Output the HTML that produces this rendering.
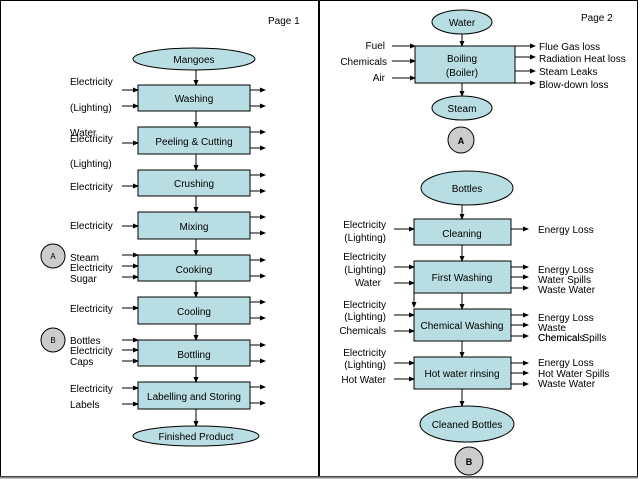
<!DOCTYPE html><html><head><style>body{margin:0;background:#fff}svg{display:block;font-family:"Liberation Sans",Arial,sans-serif;font-size:10px;fill:#000}</style></head><body>
<svg width="638" height="479" viewBox="0 0 638 479" xmlns="http://www.w3.org/2000/svg">
<defs><marker id="a" markerWidth="6" markerHeight="6" refX="5" refY="3" orient="auto" markerUnits="userSpaceOnUse"><path d="M0,0.5 L6,3 L0,5.5z" fill="#000"/></marker></defs>
<rect x="0.5" y="0.5" width="637" height="476" fill="#fff" stroke="#000"/>
<line x1="319" y1="0" x2="319" y2="477" stroke="#000" stroke-width="2"/>
<line x1="0" y1="477.5" x2="638" y2="477.5" stroke="#888" stroke-width="2"/>
<text x="268" y="24">Page 1</text><text x="581" y="21">Page 2</text>
<g stroke="#000" stroke-width="1">
<ellipse cx="194" cy="59" rx="61" ry="11" fill="#b8dde2"/>
<ellipse cx="196" cy="436" rx="63" ry="10" fill="#b8dde2"/>
<g fill="#b8dde2">
<rect x="138" y="85" width="112" height="26"/><rect x="138" y="127" width="112" height="27"/><rect x="138" y="170" width="112" height="26"/><rect x="138" y="212" width="112" height="27"/><rect x="138" y="255" width="112" height="26"/><rect x="138" y="297" width="112" height="27"/><rect x="138" y="340" width="112" height="26"/><rect x="138" y="382" width="112" height="27"/>
<ellipse cx="462" cy="22" rx="30" ry="12"/><rect x="415" y="46" width="100" height="37"/><ellipse cx="462" cy="108" rx="30" ry="12"/>
<ellipse cx="467" cy="188" rx="46" ry="17"/><rect x="414" y="219" width="97" height="26"/><rect x="414" y="261" width="97" height="32"/><rect x="414" y="309" width="97" height="32"/><rect x="414" y="357" width="97" height="32"/><ellipse cx="467" cy="424" rx="47" ry="18"/>
</g>
<g fill="#ccc"><circle cx="53" cy="256" r="12"/><circle cx="53" cy="340" r="12"/><circle cx="461" cy="140" r="13"/><circle cx="469" cy="461" r="14"/></g>
<g marker-end="url(#a)">
<line x1="196" y1="70" x2="196" y2="85"/><line x1="196" y1="111" x2="196" y2="127"/><line x1="196" y1="154" x2="196" y2="170"/><line x1="196" y1="196" x2="196" y2="212"/><line x1="196" y1="239" x2="196" y2="255"/><line x1="196" y1="281" x2="196" y2="297"/><line x1="196" y1="324" x2="196" y2="340"/><line x1="196" y1="366" x2="196" y2="382"/><line x1="196" y1="409" x2="196" y2="426"/>
<line x1="122" y1="90" x2="138" y2="90"/><line x1="122" y1="106" x2="138" y2="106"/><line x1="122" y1="143" x2="138" y2="143"/><line x1="122" y1="186" x2="138" y2="186"/><line x1="122" y1="226" x2="138" y2="226"/><line x1="122" y1="255" x2="138" y2="255"/><line x1="122" y1="266" x2="138" y2="266"/><line x1="122" y1="277" x2="138" y2="277"/><line x1="122" y1="308" x2="138" y2="308"/><line x1="122" y1="340" x2="138" y2="340"/><line x1="122" y1="350" x2="138" y2="350"/><line x1="122" y1="361" x2="138" y2="361"/><line x1="122" y1="388" x2="138" y2="388"/><line x1="122" y1="404" x2="138" y2="404"/>
<line x1="250" y1="90" x2="265" y2="90"/><line x1="250" y1="106" x2="265" y2="106"/><line x1="250" y1="132" x2="265" y2="132"/><line x1="250" y1="148" x2="265" y2="148"/><line x1="250" y1="175" x2="265" y2="175"/><line x1="250" y1="191" x2="265" y2="191"/><line x1="250" y1="217" x2="265" y2="217"/><line x1="250" y1="233" x2="265" y2="233"/><line x1="250" y1="260" x2="265" y2="260"/><line x1="250" y1="276" x2="265" y2="276"/><line x1="250" y1="302" x2="265" y2="302"/><line x1="250" y1="318" x2="265" y2="318"/><line x1="250" y1="345" x2="265" y2="345"/><line x1="250" y1="361" x2="265" y2="361"/><line x1="250" y1="387" x2="265" y2="387"/><line x1="250" y1="403" x2="265" y2="403"/>
<line x1="462" y1="34" x2="462" y2="46"/><line x1="462" y1="83" x2="462" y2="96"/>
<line x1="392" y1="46" x2="415" y2="46"/><line x1="392" y1="61" x2="415" y2="61"/><line x1="392" y1="78" x2="415" y2="78"/>
<line x1="515" y1="46" x2="535" y2="46"/><line x1="515" y1="57" x2="535" y2="57"/><line x1="515" y1="71" x2="535" y2="71"/><line x1="515" y1="83" x2="535" y2="83"/>
<line x1="462" y1="205" x2="462" y2="219"/><line x1="462" y1="245" x2="462" y2="261"/><line x1="462" y1="293" x2="462" y2="309"/><line x1="462" y1="341" x2="462" y2="357"/><line x1="462" y1="389" x2="462" y2="406"/>
<line x1="394" y1="229" x2="414" y2="229"/><line x1="511" y1="229" x2="528" y2="229"/>
<line x1="394" y1="267" x2="414" y2="267"/><line x1="394" y1="283" x2="414" y2="283"/><line x1="414" y1="293" x2="414" y2="307"/>
<line x1="394" y1="315" x2="414" y2="315"/><line x1="394" y1="331" x2="414" y2="331"/>
<line x1="394" y1="363" x2="414" y2="363"/><line x1="394" y1="379" x2="414" y2="379"/>
<line x1="511" y1="267" x2="528" y2="267"/><line x1="511" y1="277" x2="528" y2="277"/><line x1="511" y1="288" x2="528" y2="288"/>
<line x1="511" y1="315" x2="528" y2="315"/><line x1="511" y1="325" x2="528" y2="325"/><line x1="511" y1="336" x2="528" y2="336"/>
<line x1="511" y1="363" x2="528" y2="363"/><line x1="511" y1="373" x2="528" y2="373"/><line x1="511" y1="384" x2="528" y2="384"/>
</g></g>
<g text-anchor="middle">
<text x="194" y="63">Mangoes</text><text x="194" y="102">Washing</text><text x="194" y="145">Peeling &amp; Cutting</text><text x="194" y="187">Crushing</text><text x="194" y="230">Mixing</text><text x="194" y="273">Cooking</text><text x="194" y="315">Cooling</text><text x="194" y="358">Bottling</text><text x="194" y="400">Labelling and Storing</text><text x="196" y="440">Finished Product</text>
<text x="462" y="26">Water</text><text x="462" y="62">Boiling</text><text x="462" y="76">(Boiler)</text><text x="462" y="112">Steam</text><text x="461" y="144" font-size="9" font-weight="bold">A</text><text x="53" y="259" font-size="8">A</text><text x="53" y="343" font-size="8">B</text><text x="469" y="465" font-size="9" font-weight="bold">B</text>
<text x="467" y="192">Bottles</text><text x="462" y="237">Cleaning</text><text x="462" y="281">First Washing</text><text x="462" y="329">Chemical Washing</text><text x="462" y="377">Hot water rinsing</text><text x="467" y="428">Cleaned Bottles</text>
</g>
<g>
<text x="70" y="85">Electricity</text><text x="70" y="111">(Lighting)</text><text x="70" y="136">Water</text><text x="70" y="142">Electricity</text><text x="70" y="167">(Lighting)</text><text x="70" y="190">Electricity</text><text x="70" y="229">Electricity</text>
<text x="70" y="261">Steam</text><text x="70" y="271">Electricity</text><text x="70" y="282">Sugar</text><text x="70" y="312">Electricity</text><text x="70" y="344">Bottles</text><text x="70" y="354">Electricity</text><text x="70" y="365">Caps</text><text x="70" y="392">Electricity</text><text x="70" y="408">Labels</text>
<text x="539" y="50">Flue Gas loss</text><text x="539" y="62">Radiation Heat loss</text><text x="539" y="75">Steam Leaks</text><text x="539" y="88">Blow-down loss</text>
<text x="538" y="233">Energy Loss</text><text x="538" y="273">Energy Loss</text><text x="538" y="283">Water Spills</text><text x="538" y="293">Waste Water</text><text x="538" y="321">Energy Loss</text><text x="538" y="331">Waste</text><text x="538" y="341">Chemicals</text><text x="538" y="341">Chemical Spills</text><text x="538" y="366">Energy Loss</text><text x="538" y="377">Hot Water Spills</text><text x="538" y="387">Waste Water</text>
</g>
<g text-anchor="end">
<text x="385" y="49">Fuel</text><text x="387" y="65">Chemicals</text><text x="385" y="81">Air</text>
<text x="386" y="228">Electricity</text><text x="386" y="241">(Lighting)</text><text x="386" y="260">Electricity</text><text x="386" y="273">(Lighting)</text><text x="381" y="286">Water</text><text x="386" y="308">Electricity</text><text x="386" y="320">(Lighting)</text><text x="386" y="334">Chemicals</text><text x="386" y="356">Electricity</text><text x="386" y="368">(Lighting)</text><text x="386" y="383">Hot Water</text>
</g>
</svg></body></html>
